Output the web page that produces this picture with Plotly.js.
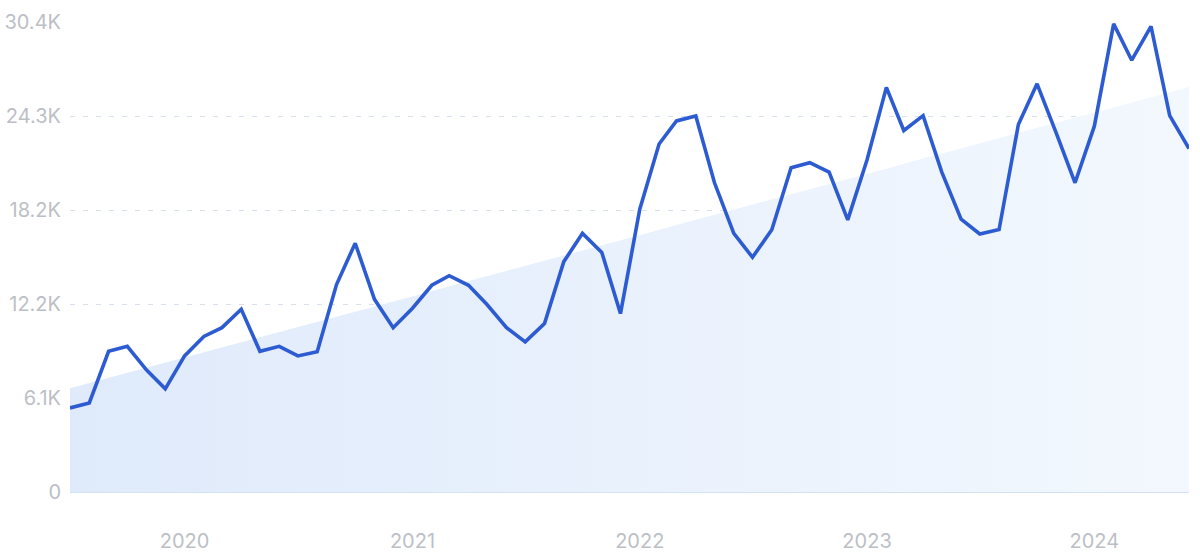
<!DOCTYPE html>
<html>
<head>
<meta charset="utf-8">
<script src="https://cdn.plot.ly/plotly-3.0.1.min.js"></script>
<style>
html,body{margin:0;padding:0;background:#fff;}
#chart{width:1200px;height:557px;}
</style>
</head>
<body>
<div id="chart"></div>
<script>
// Monthly values, Jul 2019 .. Jun 2024 (thousands)
const months = [];
for (let i = 0; i < 60; i++) {
  const y = 2019 + Math.floor((6 + i) / 12);
  const m = (6 + i) % 12 + 1;
  months.push(y + '-' + String(m).padStart(2, '0') + '-01');
}
const values = [
  5.44, 5.76, 9.10, 9.42, 7.89, 6.67,
  8.80, 10.06, 10.63, 11.82, 9.10, 9.42, 8.80, 9.07, 13.42, 16.09, 12.46, 10.63,
  11.89, 13.37, 13.99, 13.37, 12.11, 10.63, 9.71, 10.90, 14.90, 16.73, 15.50, 11.54,
  18.29, 22.51, 24.00, 24.32, 20.00, 16.73, 15.18, 16.96, 20.98, 21.30, 20.69, 17.60,
  21.49, 26.17, 23.38, 24.34, 20.69, 17.65, 16.69, 16.98, 23.77, 26.40, 23.20, 20.00,
  23.66, 30.28, 27.93, 30.12, 24.34, 22.22
].map(v => v * 1000);

const yTickVals = [0, 6080, 12160, 18240, 24320, 30400];
const yTickText = ['0', '6.1K', '12.2K', '18.2K', '24.3K', '30.4K'];
const xTickVals = ['2020-01-01', '2021-01-01', '2022-01-01', '2023-01-01', '2024-01-01'];
const xTickText = ['2020', '2021', '2022', '2023', '2024'];

// Linear trend (least squares) over the series
const n = values.length;
let sx = 0, sy = 0, sxx = 0, sxy = 0;
values.forEach((v, i) => { sx += i; sy += v; sxx += i * i; sxy += i * v; });
const slope = (n * sxy - sx * sy) / (n * sxx - sx * sx);
const intercept = (sy - slope * sx) / n;
const trend = values.map((v, i) => intercept + slope * i);

const traces = [
  {
    x: months, y: trend, type: 'scatter', mode: 'lines',
    line: {width: 0, color: 'rgba(0,0,0,0)'},
    fill: 'tozeroy',
    fillgradient: {type: 'horizontal', colorscale: [[0, '#dfeafb'], [1, '#f3f8fe']]},
    hoverinfo: 'skip', showlegend: false
  },
  {
    x: months, y: values, type: 'scatter', mode: 'lines',
    line: {color: '#2d5cd2', width: 3.6},
    showlegend: false
  }
];

const layout = {
  width: 1200, height: 557,
  margin: {l: 70, r: 11, t: 22, b: 65},
  paper_bgcolor: '#ffffff', plot_bgcolor: '#ffffff',
  font: {family: 'Inter, "Noto Sans", sans-serif', color: '#bcc0c6', size: 20},
  xaxis: {
    type: 'date',
    range: [months[0], months[n - 1]],
    tickvals: xTickVals, ticktext: xTickText,
    showgrid: false, zeroline: false, showline: false,
    ticks: '', ticklabelstandoff: 35,
    tickfont: {size: 20, color: '#bcc0c6'}
  },
  yaxis: {
    range: [0, 30400],
    tickvals: yTickVals, ticktext: yTickText,
    showgrid: true, gridcolor: '#d6e0ef', griddash: '5px,8px', gridwidth: 1,
    zeroline: true, zerolinecolor: '#d3e1f4', zerolinewidth: 1.5,
    showline: false, ticks: '', ticklabelstandoff: 8,
    tickfont: {size: 20, color: '#bcc0c6'}
  },
  showlegend: false
};

Plotly.newPlot('chart', traces, layout, {displayModeBar: false, staticPlot: true});
</script>
</body>
</html>
